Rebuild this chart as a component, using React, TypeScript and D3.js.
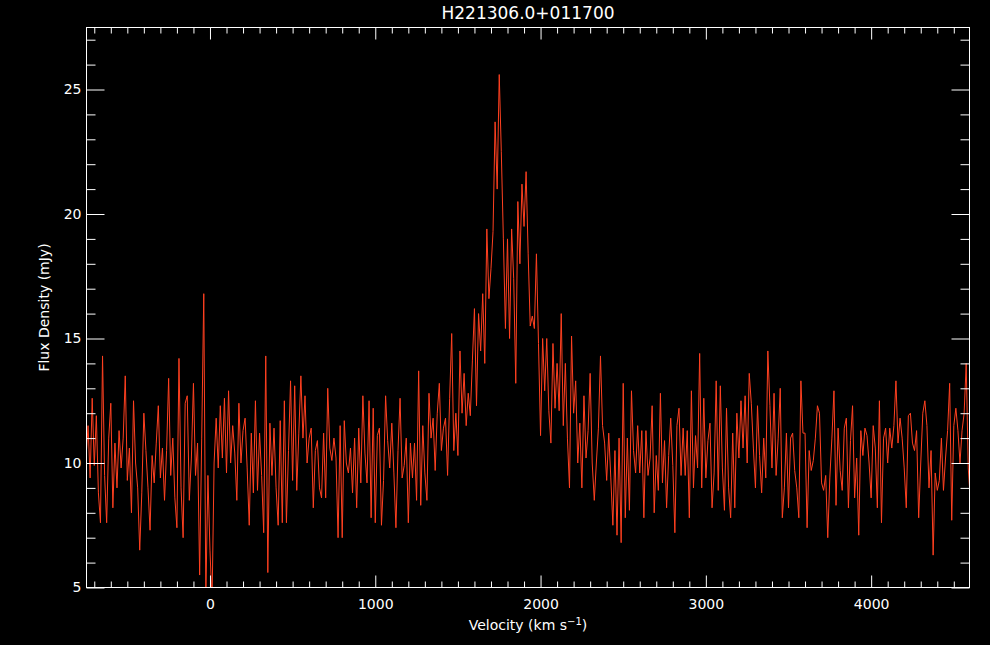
import * as d3 from "d3";
import React, { useEffect, useRef } from "react";

const title = "H221306.0+011700";
const xLabel = "Velocity (km s";
const yLabel = "Flux Density (mJy)";

// channel grid of the spectrum (km/s)
const velStart = -750;
const velStep = 12.5;

// flux density per channel (mJy), one row per 100 km/s
const flux: number[] = [
  10.2, 11.5, 9.4, 12.6, 9.9, 11.9, 8.8, 7.6,
  14.3, 9.5, 7.6, 11.0, 12.4, 8.2, 10.8, 9.0,
  11.3, 9.8, 11.0, 13.5, 9.3, 10.6, 8.0, 12.5,
  10.0, 9.0, 6.5, 8.8, 12.0, 10.5, 9.0, 7.3,
  10.3, 9.2, 10.8, 12.3, 9.4, 10.6, 8.5, 10.5,
  13.4, 9.5, 11.0, 8.6, 7.4, 14.2, 9.0, 7.0,
  12.4, 12.7, 8.5, 10.2, 13.2, 9.5, 10.8, 5.5,
  11.0, 16.8, 4.6, 9.5, 6.5, 4.4, 10.0, 11.8,
  9.8, 12.3, 10.2, 12.6, 9.6, 12.9, 10.0, 11.5,
  10.4, 8.5, 12.4, 10.0, 11.3, 11.8, 9.8, 7.5,
  11.2, 8.8, 12.5, 8.9, 11.2, 9.5, 7.2, 14.3,
  5.6, 11.6, 9.5, 11.4, 9.0, 7.5, 11.7, 7.6,
  12.5, 7.6, 10.5, 13.3, 9.3, 13.1, 8.9, 11.2,
  13.5, 11.0, 12.7, 10.0, 11.0, 11.4, 8.2, 10.5,
  10.9, 9.0, 8.6, 11.2, 8.6, 13.0, 10.6, 10.1,
  11.0, 10.2, 7.0, 11.5, 7.0, 11.7, 10.0, 9.6,
  10.6, 8.8, 11.0, 8.2, 11.4, 9.2, 12.7, 10.4,
  9.2, 12.5, 7.8, 12.2, 7.6, 11.1, 11.4, 7.5,
  9.3, 12.7, 10.9, 9.8, 11.6, 9.6, 7.4, 10.5,
  12.6, 9.4, 9.9, 11.0, 7.6, 10.8, 9.4, 10.8,
  8.5, 13.7, 8.3, 11.5, 9.6, 8.5, 12.8, 11.0,
  11.8, 9.7, 12.0, 13.2, 10.5, 11.4, 11.8, 9.5,
  12.6, 15.2, 10.5, 12.0, 10.3, 14.5, 12.0, 13.6,
  11.5, 12.8, 11.9, 14.1, 16.2, 12.3, 16.0, 14.5,
  16.8, 14.0, 19.4, 16.6, 17.8, 19.3, 23.7, 21.0,
  25.6, 22.5, 19.0, 15.4, 19.0, 15.0, 19.4, 17.4,
  13.2, 20.5, 18.0, 21.2, 19.5, 21.7, 18.4, 15.5,
  15.9, 15.4, 18.4, 14.8, 11.1, 15.0, 12.9, 15.0,
  12.1, 10.8, 14.8, 12.2, 14.0, 12.1, 16.0, 11.5,
  14.0, 11.0, 9.0, 15.1, 12.0, 13.3, 10.0, 11.6,
  9.0, 12.7, 10.2, 11.3, 13.6, 10.0, 8.5, 10.0,
  11.4, 14.3, 11.5, 10.8, 9.3, 11.2, 9.4, 7.5,
  10.5, 7.1, 11.0, 6.8, 13.2, 7.8, 11.0, 8.1,
  12.9, 10.5, 9.6, 11.5, 9.6, 11.3, 7.8, 11.3,
  9.5, 10.2, 12.3, 8.0, 10.3, 8.9, 12.8, 9.2,
  10.9, 8.2, 10.3, 11.8, 9.9, 7.2, 11.5, 12.2,
  9.5, 11.4, 9.5, 11.3, 7.8, 12.9, 9.0, 11.1,
  9.8, 14.4, 9.0, 12.6, 9.4, 10.9, 11.6, 8.2,
  9.6, 13.3, 8.9, 13.1, 9.8, 8.1, 12.2, 9.0,
  7.8, 11.2, 8.2, 12.0, 10.2, 12.5, 10.6, 12.7,
  10.0, 13.6, 12.4, 10.6, 9.0, 12.3, 10.3, 8.8,
  11.0, 9.4, 14.5, 12.3, 9.8, 12.8, 9.5, 11.0,
  13.0, 7.8, 9.0, 11.2, 8.2, 11.0, 11.2, 9.7,
  9.0, 7.8, 13.3, 11.2, 11.2, 7.4, 10.5, 9.7,
  10.1, 11.0, 12.3, 12.0, 9.2, 8.9, 9.5, 7.0,
  9.4, 11.0, 12.9, 8.3, 11.4, 9.7, 8.9, 11.4,
  11.8, 8.2, 10.9, 12.3, 8.6, 10.2, 7.1, 11.3,
  10.3, 11.4, 11.1, 10.0, 8.6, 11.5, 10.6, 8.2,
  12.5, 7.6, 11.0, 11.4, 10.0, 11.4, 10.6, 11.5,
  13.3, 10.8, 11.8, 11.0, 9.8, 8.2, 11.9, 12.0,
  10.8, 10.5, 11.3, 7.8, 10.0, 12.0, 12.5, 11.5,
  9.0, 10.5, 6.3, 9.6, 8.9, 9.3, 11.0, 8.9,
  10.2, 11.3, 13.2, 7.7, 11.5, 12.2, 11.3, 10.0,
  11.3, 12.0, 14.0, 9.8, 8.5,
];

const xDomain = [-747, 4595];
const yDomain = [5, 27.49];
const xMajorTicks = [0, 1000, 2000, 3000, 4000];
const yMajorTicks = [5, 10, 15, 20, 25];

const width = 990;
const height = 645;
const margin = { left: 86.5, right: 20.5, top: 27.5, bottom: 57.5 };
const lineColor = "#ff4020";
const font = "'DejaVu Sans', sans-serif";

export default function App() {
  const axesRef = useRef<SVGGElement>(null);

  const x = d3.scaleLinear().domain(xDomain).range([margin.left, width - margin.right]);
  const y = d3.scaleLinear().domain(yDomain).range([height - margin.bottom, margin.top]);

  const points = flux.map((f, i) => ({ v: velStart + i * velStep, f }));
  const line = d3.line<{ v: number; f: number }>()
    .x((d) => x(d.v))
    .y((d) => y(d.f));

  useEffect(() => {
    const g = d3.select(axesRef.current);
    g.selectAll("*").remove();

    const xMinor = d3.range(-700, 4600, 100).filter((t) => t % 1000 !== 0);
    const yMinor = d3.range(6, 28, 1).filter((t) => t % 5 !== 0);
    const bottom = height - margin.bottom;
    const right = width - margin.right;

    const add = (axis: any, tx: number, ty: number) =>
      g.append("g").attr("transform", `translate(${tx},${ty})`).call(axis);

    // bottom
    add(d3.axisBottom(x).tickValues(xMajorTicks).tickSize(-12).tickPadding(12).tickFormat(d3.format("d")), 0, bottom);
    add(d3.axisBottom(x).tickValues(xMinor).tickSize(-6).tickFormat(() => ""), 0, bottom);
    // top
    add(d3.axisTop(x).tickValues(xMajorTicks).tickSize(-12).tickFormat(() => ""), 0, margin.top);
    add(d3.axisTop(x).tickValues(xMinor).tickSize(-6).tickFormat(() => ""), 0, margin.top);
    // left
    add(d3.axisLeft(y).tickValues(yMajorTicks).tickSize(-18).tickPadding(5).tickFormat(d3.format("d")), margin.left, 0);
    add(d3.axisLeft(y).tickValues(yMinor).tickSize(-9).tickFormat(() => ""), margin.left, 0);
    // right
    add(d3.axisRight(y).tickValues(yMajorTicks).tickSize(-18).tickFormat(() => ""), right, 0);
    add(d3.axisRight(y).tickValues(yMinor).tickSize(-9).tickFormat(() => ""), right, 0);

    g.selectAll(".domain").remove();
    g.selectAll(".tick line").attr("stroke", "#fff");
    g.selectAll(".tick text")
      .attr("fill", "#fff")
      .style("font-family", font)
      .style("font-size", "14px");
  }, []);

  const plotW = width - margin.left - margin.right;
  const plotH = height - margin.top - margin.bottom;

  return (
    <svg width={width} height={height} style={{ position: "absolute", left: 0, top: 0, display: "block" }}>
      <rect width={width} height={height} fill="#000" />
      <defs>
        <clipPath id="plot-clip">
          <rect x={margin.left} y={margin.top} width={plotW} height={plotH} />
        </clipPath>
      </defs>
      <path d={line(points) ?? ""} fill="none" stroke={lineColor} strokeWidth={1} clipPath="url(#plot-clip)" />
      <rect x={margin.left} y={margin.top} width={plotW} height={plotH} fill="none" stroke="#fff" strokeWidth={1} />
      <g ref={axesRef} />
      <text x={margin.left + plotW / 2} y={19} fill="#fff" textAnchor="middle"
        style={{ fontFamily: font, fontSize: 17 }}>{title}</text>
      <text x={margin.left + plotW / 2} y={630} fill="#fff" textAnchor="middle"
        style={{ fontFamily: font, fontSize: 14 }}>
        {xLabel}
        <tspan dy={-5} style={{ fontSize: 10 }}>−1</tspan>
        <tspan dy={5}>)</tspan>
      </text>
      <text transform={`translate(49,${margin.top + plotH / 2}) rotate(-90)`} fill="#fff" textAnchor="middle"
        style={{ fontFamily: font, fontSize: 14 }}>{yLabel}</text>
    </svg>
  );
}
